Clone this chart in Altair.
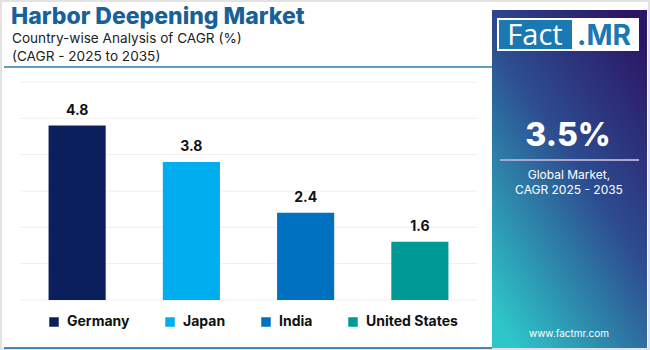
import altair as alt
import pandas as pd

countries = ["Germany", "Japan", "India", "United States"]
cagr = [4.8, 3.8, 2.4, 1.6]
colors = ["#0b1f5c", "#00aeef", "#0070c0", "#009a96"]
y_ticks = [0, 1, 2, 3, 4, 5, 6]

title_text = "Harbor Deepening Market"
subtitle_1 = "Country-wise Analysis of CAGR (%)"
subtitle_2 = "(CAGR - 2025 to 2035)"
global_value = "3.5%"
global_label_1 = "Global Market,"
global_label_2 = "CAGR 2025 - 2035"
website = "www.factmr.com"

df = pd.DataFrame({"country": countries, "cagr": cagr, "label": [f"{v:.1f}" for v in cagr]})

# plot area origin at (20, 82) in page pixels
OX, OY = 20, 82
W, H = 457, 218

one = alt.Data(values=[{}])

x_enc = alt.X("country:N", sort=countries,
              scale=alt.Scale(domain=countries, paddingInner=0.5, paddingOuter=0.25),
              axis=None)
y_scale = alt.Scale(domain=[0, 6], nice=False, zero=True)

color_enc = alt.Color("country:N", sort=countries,
                      scale=alt.Scale(domain=countries, range=colors),
                      legend=alt.Legend(orient="none", direction="horizontal",
                                        legendX=50 - OX - 3, legendY=315 - OY,
                                        title=None, symbolType="square", symbolSize=90,
                                        symbolStrokeWidth=0,
                                        labelFont="Inter", labelFontWeight="bold",
                                        labelFontSize=14, labelColor="#111111",
                                        labelOffset=6, columnPadding=33))

def px(v, o):
    return alt.value(v - o)

# outer frame
frame = alt.Chart(one).mark_rect(fill="white", stroke="#e3e3e3", strokeWidth=2).encode(
    x=px(1, OX), x2=px(649, OX), y=px(1, OY), y2=px(349, OY))

grid = alt.Chart(pd.DataFrame({"t": y_ticks})).mark_rule(color="#eeeeee", strokeWidth=1).encode(
    y=alt.Y("t:Q", scale=y_scale, axis=None),
    x=alt.value(0), x2=alt.value(W))

bars = alt.Chart(df).mark_bar().encode(
    x=x_enc,
    y=alt.Y("cagr:Q", scale=y_scale, axis=None),
    color=color_enc)

labels = alt.Chart(df).mark_text(font="Inter", fontWeight="bold", fontSize=14,
                                 color="#111111", baseline="bottom", dy=-8).encode(
    x=x_enc, y=alt.Y("cagr:Q", scale=y_scale), text="label:N")

title = alt.Chart(one).mark_text(text=title_text, font="Inter", fontWeight=800, fontSize=23,
                                 color="#17609a", align="left", baseline="alphabetic").encode(
    x=px(11, OX), y=px(24, OY))
sub1 = alt.Chart(one).mark_text(text=subtitle_1, font="Inter", fontSize=13.6,
                                color="#222222", align="left", baseline="alphabetic").encode(
    x=px(12, OX), y=px(43, OY))
sub2 = alt.Chart(one).mark_text(text=subtitle_2, font="Inter", fontSize=13.6,
                                color="#222222", align="left", baseline="alphabetic").encode(
    x=px(12, OX), y=px(61, OY))
underline = alt.Chart(one).mark_rule(color="#2c7bb3", strokeWidth=1.5).encode(
    x=px(4, OX), x2=px(492, OX), y=px(67, OY))
bottomline = alt.Chart(one).mark_rule(color="#4a86b8", strokeWidth=2).encode(
    x=px(4, OX), x2=px(492, OX), y=px(348, OY))

gradient = alt.LinearGradient(gradient="linear", x1=0.85, y1=0.0, x2=0.15, y2=1.0,
                              stops=[alt.GradientStop(offset=0.0, color="#2b1665"),
                                     alt.GradientStop(offset=0.45, color="#2d4c90"),
                                     alt.GradientStop(offset=1.0, color="#2ec6c8")])
panel = alt.Chart(one).mark_rect(color=gradient).encode(
    x=px(492, OX), x2=px(647, OX), y=px(10, OY), y2=px(348, OY))

logo_bg = alt.Chart(one).mark_rect(color="white").encode(
    x=px(497, OX), x2=px(639, OX), y=px(18, OY), y2=px(51, OY))
logo_blue = alt.Chart(one).mark_rect(color="#1a79b3").encode(
    x=px(499, OX), x2=px(572, OX), y=px(20, OY), y2=px(49, OY))
logo_fact = alt.Chart(one).mark_text(text="Fact", font="Open Sans", fontSize=29, fontWeight=400,
                                     color="white", align="center", baseline="alphabetic").encode(
    x=px(535, OX), y=px(45, OY))
logo_mr = alt.Chart(one).mark_text(text=".MR", font="Inter", fontSize=28, fontWeight="bold",
                                   color="#1a79b3", align="center", baseline="alphabetic").encode(
    x=px(604, OX), y=px(45, OY))

big = alt.Chart(one).mark_text(text=global_value, font="Inter", fontSize=32, fontWeight=800,
                               color="white", align="center", baseline="alphabetic").encode(
    x=px(568, OX), y=px(146, OY))
sep = alt.Chart(one).mark_rule(color="#a9a6d0", strokeWidth=2).encode(
    x=px(500, OX), x2=px(639, OX), y=px(160, OY))
gl1 = alt.Chart(one).mark_text(text=global_label_1, font="Inter", fontSize=12,
                               color="white", align="center", baseline="middle").encode(
    x=px(569, OX), y=px(175, OY))
gl2 = alt.Chart(one).mark_text(text=global_label_2, font="Inter", fontSize=12,
                               color="white", align="center", baseline="middle").encode(
    x=px(569, OX), y=px(190, OY))
web = alt.Chart(one).mark_text(text=website, font="Inter", fontSize=10,
                               color="white", align="center", baseline="middle").encode(
    x=px(569, OX), y=px(334, OY))

chart = alt.layer(frame, grid, bars, labels, title, sub1, sub2, underline, bottomline,
                  panel, logo_bg, logo_blue, logo_fact, logo_mr, big, sep, gl1, gl2, web).resolve_scale(
    color="independent"
).properties(
    width=W, height=H,
    padding={"left": OX, "top": OY, "right": 650 - OX - W, "bottom": 350 - OY - H},
    autosize=alt.AutoSizeParams(type="none"),
    background="white"
).configure_view(stroke=None)

chart.save("out.html", embed_options={"renderer": "svg", "actions": False})
